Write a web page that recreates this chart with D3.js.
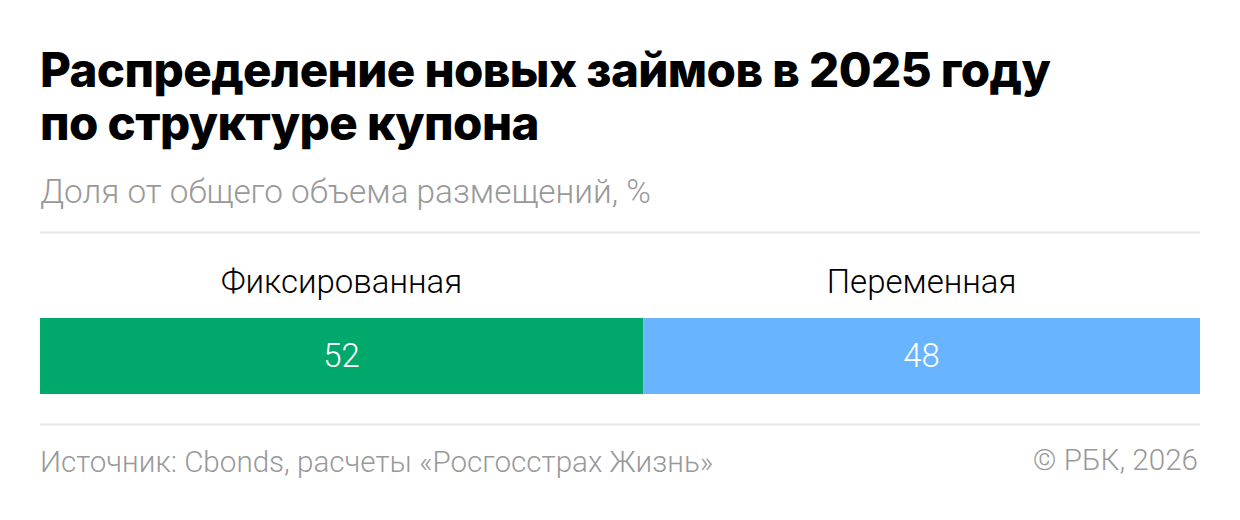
<!DOCTYPE html>
<html><head><meta charset="utf-8">
<script src="https://cdn.jsdelivr.net/npm/d3@7"></script>
<style>html,body{margin:0;padding:0;background:#fff;}svg{display:block;}</style>
</head><body>
<svg id="c" width="1240" height="520"></svg>
<script>
const titleLines = ["Распределение новых займов в 2025 году", "по структуре купона"];
const subtitle = "Доля от общего объема размещений, %";
const categories = ["Фиксированная", "Переменная"];
const values = [52, 48];
const colors = ["#00A86B", "#69B4FF"];
const source = "Источник: Cbonds, расчеты «Росгосстрах Жизнь»";
const copyright = "© РБК, 2026";

const svg = d3.select("#c");
const L = 40, R = 1200;
svg.append("g").selectAll("text").data(titleLines).join("text")
  .attr("x", L).attr("y", (d,i)=>87+i*53)
  .attr("font-family","Inter, 'Noto Sans', sans-serif").attr("font-weight",800)
  .attr("font-size",47.5).attr("letter-spacing","-0.6").attr("fill","#000").text(d=>d);
svg.append("text").attr("x",L).attr("y",203).attr("font-family","Roboto, sans-serif").attr("font-weight",300)
  .attr("font-size",33.3).attr("fill","#999").text(subtitle);
svg.append("line").attr("x1",L).attr("x2",R).attr("y1",232.5).attr("y2",232.5).attr("stroke","#e5e5e5").attr("stroke-width",2);
svg.append("line").attr("x1",L).attr("x2",R).attr("y1",424.5).attr("y2",424.5).attr("stroke","#e5e5e5").attr("stroke-width",2);

const total = d3.sum(values);
const x = d3.scaleLinear().domain([0,total]).range([L,R]);
let acc = 0;
const segs = values.map((v,i)=>{const s={cat:categories[i],v,x0:acc,x1:acc+v,c:colors[i]};acc+=v;return s;});
const g = svg.append("g");
g.selectAll("rect").data(segs).join("rect")
  .attr("x",d=>x(d.x0)).attr("width",d=>x(d.x1)-x(d.x0))
  .attr("y",318).attr("height",76).attr("fill",d=>d.c);
g.selectAll("text.v").data(segs).join("text").attr("class","v")
  .attr("x",d=>(x(d.x0)+x(d.x1))/2).attr("y",367).attr("text-anchor","middle")
  .attr("font-family","Roboto, sans-serif").attr("font-weight",300).attr("font-size",33).attr("fill","#fff").text(d=>d.v);
g.selectAll("text.c").data(segs).join("text").attr("class","c")
  .attr("x",d=>(x(d.x0)+x(d.x1))/2).attr("y",293).attr("text-anchor","middle")
  .attr("font-family","Roboto, sans-serif").attr("font-weight",300).attr("font-size",33).attr("fill","#000").text(d=>d.cat);

svg.append("text").attr("x",L).attr("y",472).attr("font-family","Roboto, sans-serif").attr("font-weight",300)
  .attr("font-size",29.6).attr("fill","#999").text(source);
svg.append("text").attr("x",R-2).attr("y",470).attr("text-anchor","end").attr("font-family","Roboto, sans-serif").attr("font-weight",300)
  .attr("font-size",29.6).attr("fill","#999").text(copyright);
</script>
</body></html>
